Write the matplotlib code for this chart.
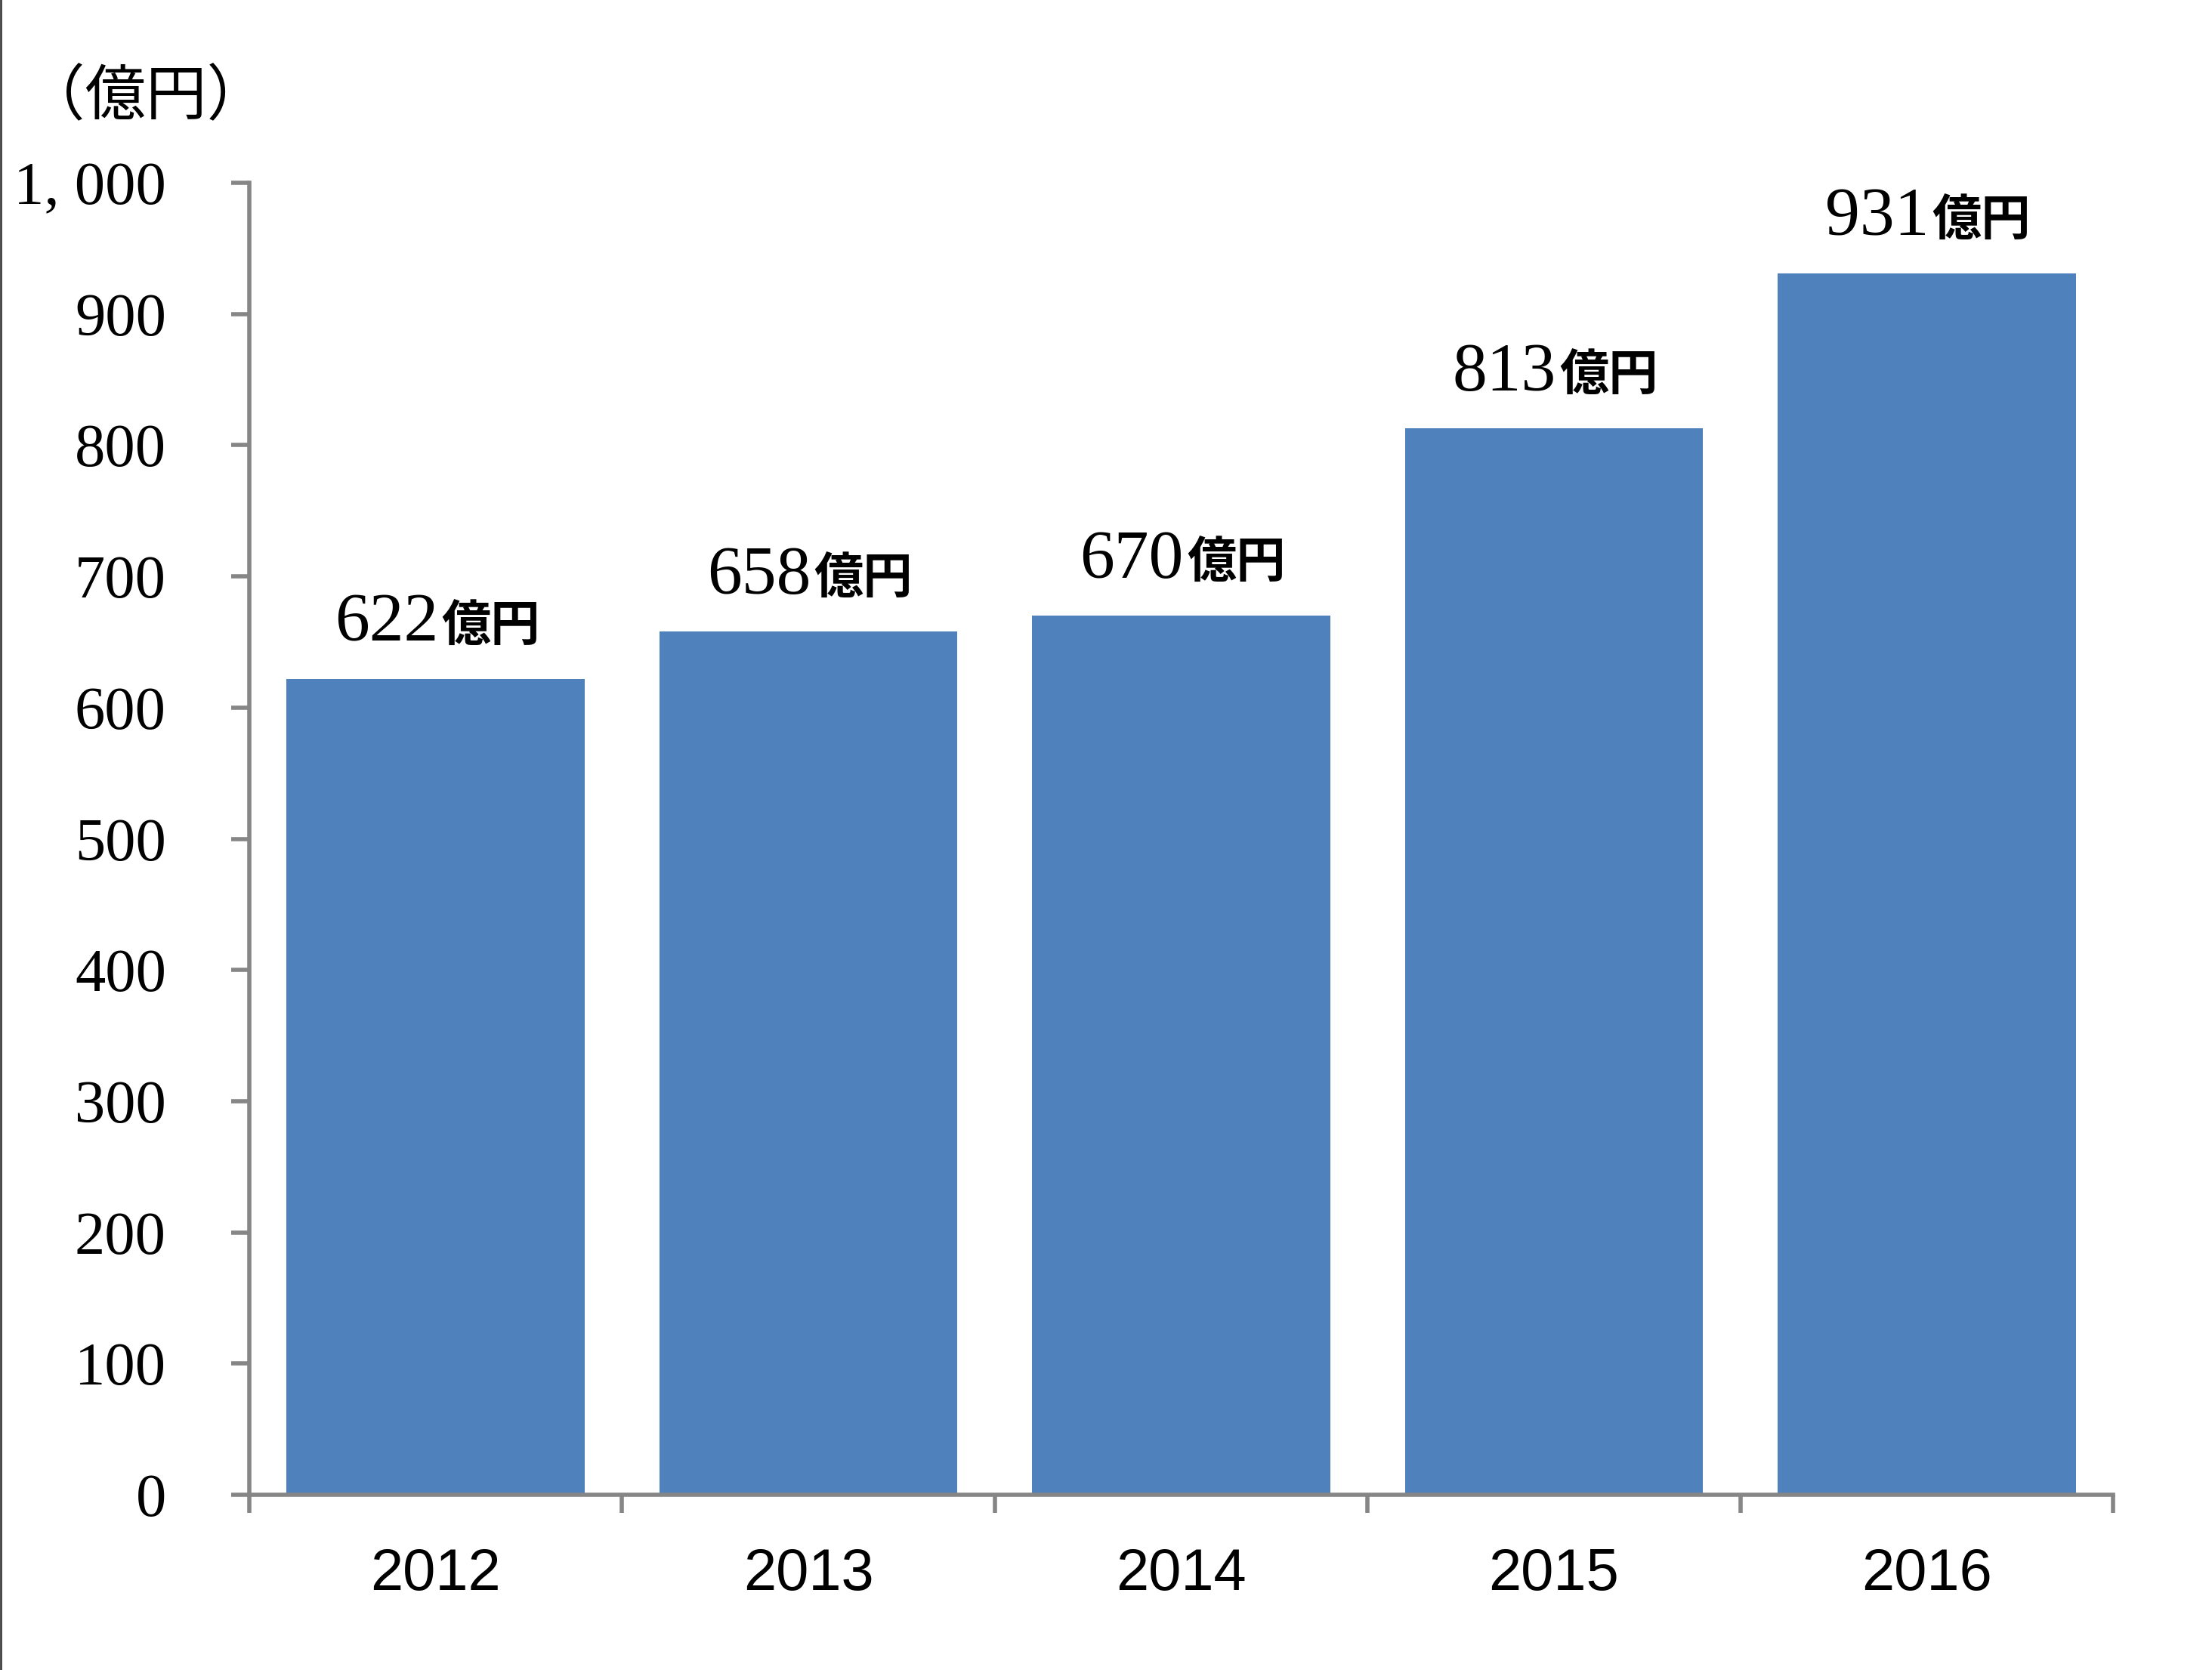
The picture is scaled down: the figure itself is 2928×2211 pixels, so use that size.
import matplotlib
matplotlib.use("Agg")
import matplotlib.pyplot as plt
from matplotlib.ticker import FixedLocator, NullFormatter, FixedFormatter
from matplotlib.lines import Line2D
import matplotlib.transforms as mtransforms

years = ["2012", "2013", "2014", "2015", "2016"]
values = [622, 658, 670, 813, 931]
ytick_values = [0, 100, 200, 300, 400, 500, 600, 700, 800, 900, 1000]
ytick_labels = ["0", "100", "200", "300", "400", "500", "600", "700", "800", "900", "1, 000"]
unit_label = "（億円）"
bar_unit = "億円"

DPI = 200
fig = plt.figure(figsize=(2928 / DPI, 2211 / DPI), dpi=DPI)
ax = fig.add_axes([330 / 2928, 232 / 2211, (2797 - 330) / 2928, (1979 - 242) / 2211])

bar_color = "#4F81BD"
axis_color = "#868686"
x = list(range(len(years)))
ax.bar(x, values, width=0.8, color=bar_color, zorder=2)

ax.set_xlim(-0.5, len(years) - 0.5)
ax.set_ylim(0, 1000)

for s in ["top", "right"]:
    ax.spines[s].set_visible(False)
for s in ["left", "bottom"]:
    ax.spines[s].set_color(axis_color)
    ax.spines[s].set_linewidth(2.0)

serif = ["Liberation Serif", "DejaVu Serif"]
sans = ["Liberation Sans", "DejaVu Sans"]
cjk = ["Noto Sans CJK JP", "DejaVu Sans"]

ax.yaxis.set_major_locator(FixedLocator(ytick_values))
ax.yaxis.set_major_formatter(FixedFormatter(ytick_labels))
ax.tick_params(axis="y", which="major", direction="out", length=8.6, width=2.0,
               color=axis_color, pad=31, labelsize=29)
for lab in ax.get_yticklabels():
    lab.set_family(serif)

bounds = [i - 0.5 for i in range(len(years) + 1)]
ax.xaxis.set_major_locator(FixedLocator(bounds))
ax.xaxis.set_major_formatter(NullFormatter())
ax.xaxis.set_minor_locator(FixedLocator(x))
ax.xaxis.set_minor_formatter(FixedFormatter(years))
ax.tick_params(axis="x", which="major", direction="out", length=8.6, width=2.0, color=axis_color)
ax.tick_params(axis="x", which="minor", length=0, pad=25, labelsize=28)
for lab in ax.get_xticklabels(minor=True):
    lab.set_family(sans)

# bar value labels: serif number + bold gothic unit
num_texts = []
unit_texts = []
for xi, v in zip(x, values):
    t1 = ax.text(xi, v, f"{v}", fontsize=33, family=serif, ha="left", va="baseline")
    t2 = ax.text(xi, v, bar_unit, fontsize=23.5, family=cjk, fontweight="bold", ha="left", va="baseline")
    num_texts.append(t1)
    unit_texts.append(t2)

fig.canvas.draw()
renderer = fig.canvas.get_renderer()
for xi, v, t1, t2 in zip(x, values, num_texts, unit_texts):
    w1 = t1.get_window_extent(renderer).width
    w2 = t2.get_window_extent(renderer).width
    total = w1 + w2
    dy = 50 / DPI * 72
    start = -total / 2
    t1.set_transform(mtransforms.offset_copy(ax.transData, fig=fig, x=start / DPI * 72, y=dy, units="points"))
    t2.set_transform(mtransforms.offset_copy(ax.transData, fig=fig, x=(start + w1 + 4) / DPI * 72, y=dy, units="points"))

fig.text(32 / 2928, 1 - 129 / 2211, unit_label, fontsize=29, family=cjk, ha="left", va="center")

# thin left border line
fig.add_artist(Line2D([1 / 2928, 1 / 2928], [0, 1], transform=fig.transFigure, color="#404040", linewidth=1.0))

fig.savefig("out.png", dpi=DPI, facecolor="white")
